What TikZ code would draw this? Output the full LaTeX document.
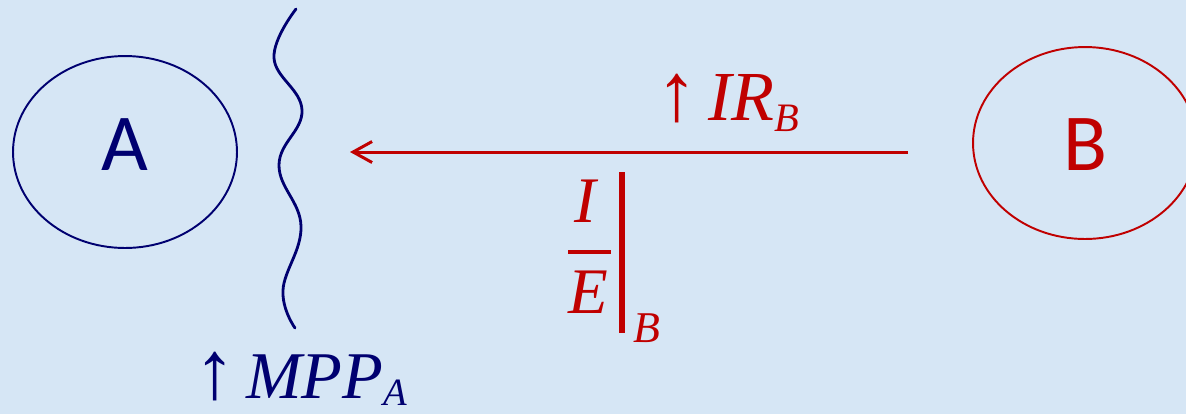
\documentclass[tikz,border=0pt]{standalone}
\usepackage{fontspec}
\setmainfont{Liberation Serif}
\newfontfamily\calib{Carlito}
\usetikzlibrary{shapes.geometric,arrows.meta}
\definecolor{navy}{HTML}{000070}
\definecolor{dred}{HTML}{C00000}
\definecolor{bgblue}{HTML}{D6E6F5}
\tikzset{
  firm/.style={ellipse, draw, line width=1.1pt, minimum width=4.48cm, minimum height=3.84cm, inner sep=0pt},
  letter/.style={inner sep=0pt, font=\calib\fontsize{46}{46}\selectfont},
  mathtxt/.style={inner sep=0pt, anchor=base west, font=\fontsize{40}{40}\selectfont},
  redarrow/.style={dred, line width=1.7pt, -{Straight Barb[length=3.8mm, width=4.2mm, line width=1.7pt]}},
}
\newcommand{\upar}{\raisebox{0pt}[\height][0pt]{\fontsize{47}{47}\selectfont ↑}}
\begin{document}
\begin{tikzpicture}[x=0.02cm, y=-0.02cm]
\useasboundingbox (0,0) rectangle (1186,414);
\fill[bgblue] (0,0) rectangle (1186,414);
% firms
\node[firm, navy] (A) at (125,152) {};
\node[letter, navy] (Alab) at (125,145) {A};
\node[firm, dred] (B) at (1085,143) {};
\node[letter, dred] (Blab) at (1085,145) {B};
% wavy boundary
\draw[navy, line width=1.6pt, line cap=round] plot[smooth, tension=0.7] coordinates {(296,9) (274,58) (302,110) (279,165) (301,226) (283,290) (295,328)};
% arrow
\coordinate (arrS) at (908,152);
\coordinate (arrE) at (350,152);
\draw[redarrow] (arrS) -- (arrE);
% labels
\node[mathtxt, dred] (irb) at (656,120) {\upar\hspace{6pt}\textit{IR}\raisebox{-6.8pt}{\fontsize{23}{23}\selectfont\textit{B}}};
\node[mathtxt, navy, font=\fontsize{38}{38}\selectfont] (mpp) at (194,398) {\upar\hspace{6pt}\textit{MPP}\raisebox{-4.5pt}{\fontsize{22}{22}\selectfont\textit{A}}};
% fraction I/E evaluated at B
\node[inner sep=0pt, anchor=base, dred, font=\fontsize{37}{37}\selectfont] (fI) at (587,222) {\textit{I}};
\node[inner sep=0pt, anchor=base, dred, font=\fontsize{37}{37}\selectfont] (fE) at (588,313) {\textit{E}};
\draw[dred, line width=2.6pt] (568,252) -- (611,252);
\draw[dred, line width=2.9pt] (622,172) -- (622,333);
\node[inner sep=0pt, anchor=base west, dred, font=\fontsize{25}{25}\selectfont] (fB) at (633,342) {\textit{B}};
\end{tikzpicture}
\end{document}
